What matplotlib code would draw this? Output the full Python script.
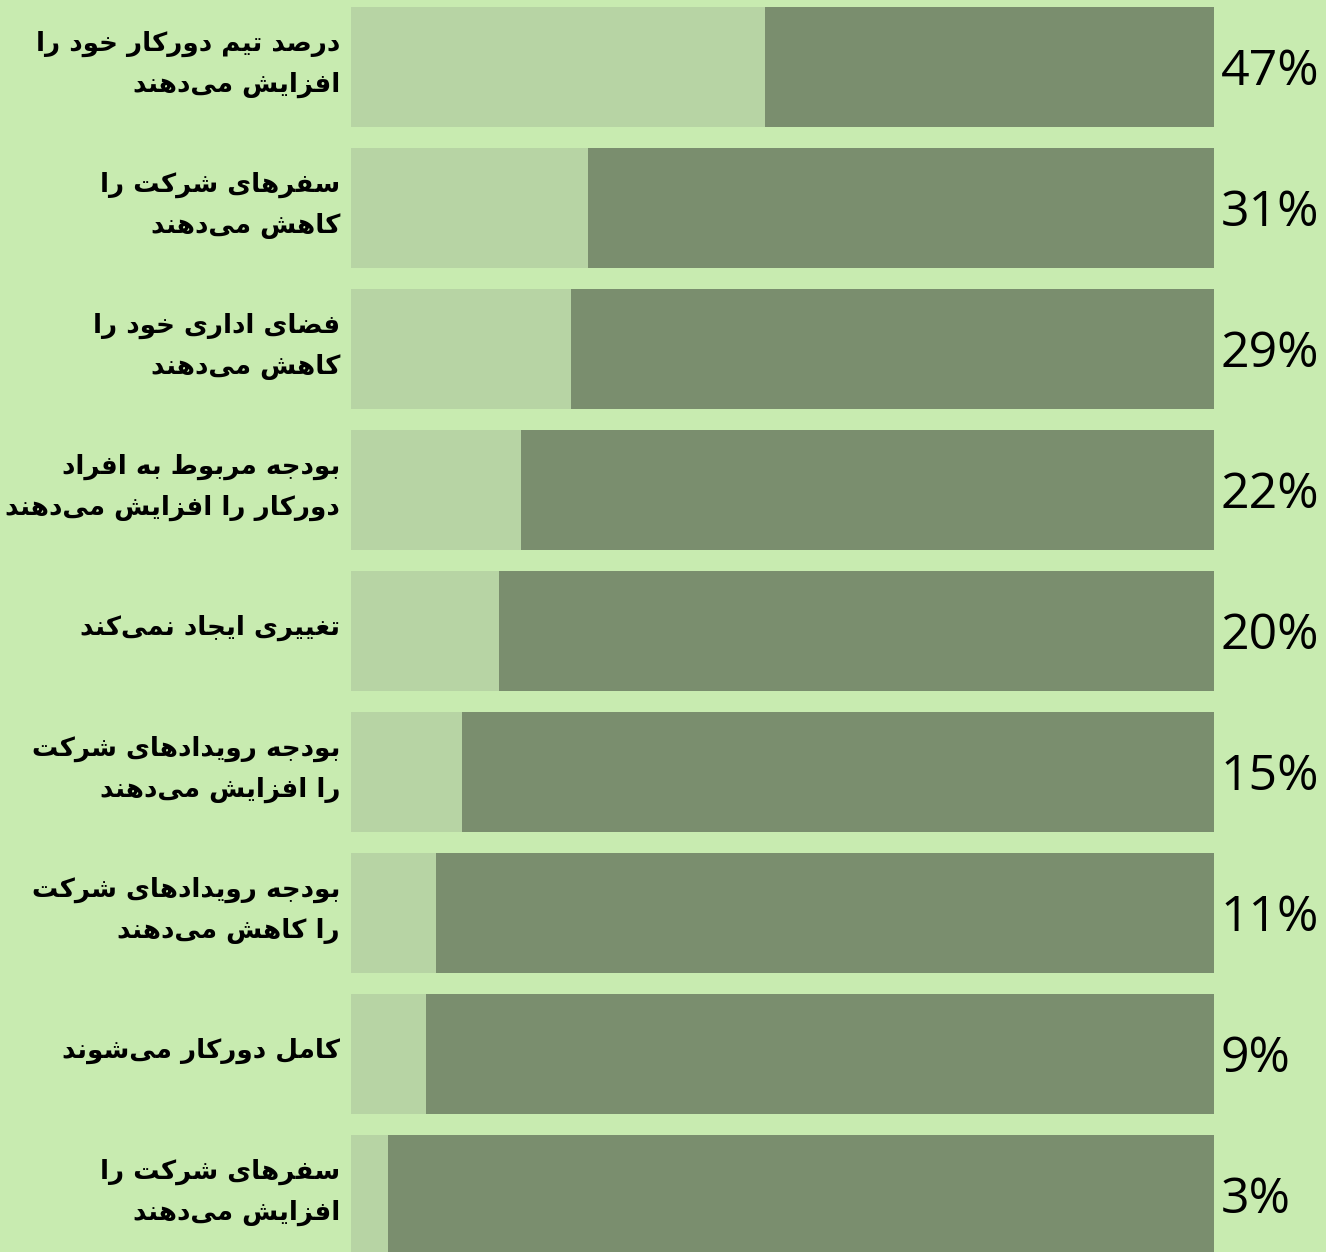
import matplotlib
matplotlib.use("Agg")
import matplotlib.pyplot as plt
import matplotlib.transforms as mtransforms

# ---------------- data ----------------
labels = [
    "درصد تیم دورکار خود را\nافزایش می‌دهند",
    "سفرهای شرکت را\nکاهش می‌دهند",
    "فضای اداری خود را\nکاهش می‌دهند",
    "بودجه مربوط به افراد\nدورکار را افزایش می‌دهند",
    "تغییری ایجاد نمی‌کند",
    "بودجه رویدادهای شرکت\nرا افزایش می‌دهند",
    "بودجه رویدادهای شرکت\nرا کاهش می‌دهند",
    "کامل دورکار می‌شوند",
    "سفرهای شرکت را\nافزایش می‌دهند",
]
value_labels = ["47%", "31%", "29%", "22%", "20%", "15%", "11%", "9%", "3%"]
# bar lengths as drawn in the picture (percent of full bar)
bar_values = [48.0, 27.5, 25.5, 19.7, 17.1, 12.9, 9.8, 8.7, 4.3]

# ---------------- simple Arabic/Persian shaping ----------------
# (isolated, final, initial, medial)
FORMS = {
    'ا': (0xFE8D, 0xFE8E, None, None),
    'آ': (0xFE81, 0xFE82, None, None),
    'ب': (0xFE8F, 0xFE90, 0xFE91, 0xFE92),
    'پ': (0xFB56, 0xFB57, 0xFB58, 0xFB59),
    'ت': (0xFE95, 0xFE96, 0xFE97, 0xFE98),
    'ث': (0xFE99, 0xFE9A, 0xFE9B, 0xFE9C),
    'ج': (0xFE9D, 0xFE9E, 0xFE9F, 0xFEA0),
    'چ': (0xFB7A, 0xFB7B, 0xFB7C, 0xFB7D),
    'ح': (0xFEA1, 0xFEA2, 0xFEA3, 0xFEA4),
    'خ': (0xFEA5, 0xFEA6, 0xFEA7, 0xFEA8),
    'د': (0xFEA9, 0xFEAA, None, None),
    'ذ': (0xFEAB, 0xFEAC, None, None),
    'ر': (0xFEAD, 0xFEAE, None, None),
    'ز': (0xFEAF, 0xFEB0, None, None),
    'ژ': (0xFB8A, 0xFB8B, None, None),
    'س': (0xFEB1, 0xFEB2, 0xFEB3, 0xFEB4),
    'ش': (0xFEB5, 0xFEB6, 0xFEB7, 0xFEB8),
    'ص': (0xFEB9, 0xFEBA, 0xFEBB, 0xFEBC),
    'ض': (0xFEBD, 0xFEBE, 0xFEBF, 0xFEC0),
    'ط': (0xFEC1, 0xFEC2, 0xFEC3, 0xFEC4),
    'ظ': (0xFEC5, 0xFEC6, 0xFEC7, 0xFEC8),
    'ع': (0xFEC9, 0xFECA, 0xFECB, 0xFECC),
    'غ': (0xFECD, 0xFECE, 0xFECF, 0xFED0),
    'ف': (0xFED1, 0xFED2, 0xFED3, 0xFED4),
    'ق': (0xFED5, 0xFED6, 0xFED7, 0xFED8),
    'ک': (0xFB8E, 0xFB8F, 0xFB90, 0xFB91),
    'ك': (0xFED9, 0xFEDA, 0xFEDB, 0xFEDC),
    'گ': (0xFB92, 0xFB93, 0xFB94, 0xFB95),
    'ل': (0xFEDD, 0xFEDE, 0xFEDF, 0xFEE0),
    'م': (0xFEE1, 0xFEE2, 0xFEE3, 0xFEE4),
    'ن': (0xFEE5, 0xFEE6, 0xFEE7, 0xFEE8),
    'ه': (0xFEE9, 0xFEEA, 0xFEEB, 0xFEEC),
    'و': (0xFEED, 0xFEEE, None, None),
    'ی': (0xFBFC, 0xFBFD, 0xFBFE, 0xFBFF),
    'ي': (0xFEF1, 0xFEF2, 0xFEF3, 0xFEF4),
}


def shape_line(s):
    out = []
    n = len(s)
    for i, ch in enumerate(s):
        if ch == '\u200c':
            continue
        if ch not in FORMS:
            out.append(ch)
            continue
        prev = s[i - 1] if i > 0 else None
        nxt = s[i + 1] if i + 1 < n else None
        joins_prev = prev in FORMS and FORMS[prev][2] is not None
        joins_next = FORMS[ch][2] is not None and nxt in FORMS
        iso, fin, ini, med = FORMS[ch]
        if joins_prev and joins_next:
            code = med
        elif joins_prev:
            code = fin
        elif joins_next:
            code = ini
        else:
            code = iso
        out.append(chr(code))
    return ''.join(out)[::-1]


def shape(text):
    return '\n'.join(shape_line(l) for l in text.split('\n'))


# ---------------- figure ----------------
BG = '#c8ebb0'
LIGHT = '#b7d4a4'
DARK = '#7a8e6e'

W, H = 1326, 1252
fig = plt.figure(figsize=(W / 100, H / 100), dpi=100, facecolor=BG)
ax = fig.add_axes([351 / W, 0, 863 / W, 1])
ax.set_facecolor(BG)
ax.patch.set_alpha(0)

pos = list(range(len(bar_values)))
rest = [100 - v for v in bar_values]
ax.barh(pos, bar_values, height=0.851, color=LIGHT, linewidth=0)
ax.barh(pos, rest, left=bar_values, height=0.851, color=DARK, linewidth=0)

ax.set_xlim(0, 100)
ax.set_ylim((H - 67) / 141, -67 / 141)
ax.axis('off')

trans = mtransforms.blended_transform_factory(ax.transAxes, ax.transData)
for p, lab, vl in zip(pos, labels, value_labels):
    ax.text(-0.0127, p - 0.02, shape(lab), transform=trans, ha='right', va='center',
            multialignment='right', fontsize=18.8, fontweight='bold',
            family=['DejaVu Sans'], linespacing=1.75, color='#000000')
    ax.text(1.008, p + 0.128, vl, transform=trans, ha='left', va='baseline',
            fontsize=36, family=['Open Sans', 'DejaVu Sans'], color='#000000')

fig.savefig('out.png', dpi=100, facecolor=BG)
